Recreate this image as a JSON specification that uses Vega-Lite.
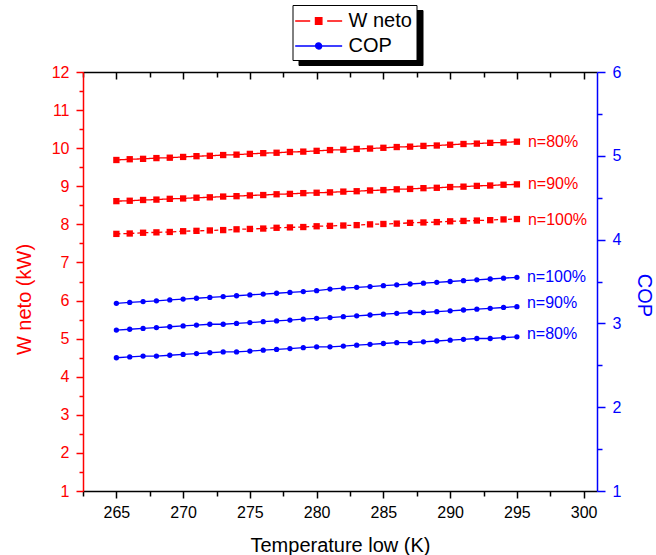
{
"$schema": "https://vega.github.io/schema/vega-lite/v6.json",
"width": 514, "height": 419,
"autosize": "none",
"padding": {"left": 83, "top": 72, "right": 59, "bottom": 64},
"background": "white",
"config": {
  "view": {"stroke": null},
  "font": "Liberation Sans",
  "axis": {"grid": false, "labelFont": "Liberation Sans", "titleFont": "Liberation Sans", "titleFontWeight": "normal", "labelFontSize": 16, "titleFontSize": 20, "domainWidth": 1.5, "tickWidth": 1.5}
},
"datasets": {
  "d": [
    {"t":265,"w80":9.69,"w90":8.61,"w100":7.75,"c80":2.59,"c90":2.92,"c100":3.24},
    {"t":266,"w80":9.71,"w90":8.62,"w100":7.76,"c80":2.60,"c90":2.93,"c100":3.25},
    {"t":267,"w80":9.72,"w90":8.64,"w100":7.78,"c80":2.61,"c90":2.94,"c100":3.26},
    {"t":268,"w80":9.74,"w90":8.65,"w100":7.79,"c80":2.61,"c90":2.95,"c100":3.27},
    {"t":269,"w80":9.75,"w90":8.67,"w100":7.80,"c80":2.62,"c90":2.96,"c100":3.28},
    {"t":270,"w80":9.77,"w90":8.68,"w100":7.82,"c80":2.63,"c90":2.97,"c100":3.29},
    {"t":271,"w80":9.79,"w90":8.70,"w100":7.83,"c80":2.64,"c90":2.98,"c100":3.30},
    {"t":272,"w80":9.80,"w90":8.71,"w100":7.84,"c80":2.65,"c90":2.99,"c100":3.31},
    {"t":273,"w80":9.82,"w90":8.73,"w100":7.85,"c80":2.66,"c90":2.99,"c100":3.32},
    {"t":274,"w80":9.83,"w90":8.74,"w100":7.87,"c80":2.66,"c90":3.00,"c100":3.33},
    {"t":275,"w80":9.85,"w90":8.76,"w100":7.88,"c80":2.67,"c90":3.01,"c100":3.34},
    {"t":276,"w80":9.87,"w90":8.77,"w100":7.89,"c80":2.68,"c90":3.02,"c100":3.35},
    {"t":277,"w80":9.88,"w90":8.79,"w100":7.91,"c80":2.69,"c90":3.03,"c100":3.36},
    {"t":278,"w80":9.90,"w90":8.80,"w100":7.92,"c80":2.70,"c90":3.04,"c100":3.37},
    {"t":279,"w80":9.91,"w90":8.82,"w100":7.93,"c80":2.71,"c90":3.05,"c100":3.38},
    {"t":280,"w80":9.93,"w90":8.83,"w100":7.95,"c80":2.72,"c90":3.06,"c100":3.39},
    {"t":281,"w80":9.95,"w90":8.84,"w100":7.96,"c80":2.72,"c90":3.07,"c100":3.41},
    {"t":282,"w80":9.96,"w90":8.86,"w100":7.97,"c80":2.73,"c90":3.08,"c100":3.42},
    {"t":283,"w80":9.98,"w90":8.87,"w100":7.98,"c80":2.74,"c90":3.09,"c100":3.43},
    {"t":284,"w80":9.99,"w90":8.89,"w100":8.00,"c80":2.75,"c90":3.10,"c100":3.44},
    {"t":285,"w80":10.01,"w90":8.90,"w100":8.01,"c80":2.76,"c90":3.11,"c100":3.45},
    {"t":286,"w80":10.03,"w90":8.92,"w100":8.02,"c80":2.77,"c90":3.12,"c100":3.46},
    {"t":287,"w80":10.04,"w90":8.93,"w100":8.04,"c80":2.77,"c90":3.13,"c100":3.47},
    {"t":288,"w80":10.06,"w90":8.95,"w100":8.05,"c80":2.78,"c90":3.13,"c100":3.48},
    {"t":289,"w80":10.07,"w90":8.96,"w100":8.06,"c80":2.79,"c90":3.14,"c100":3.49},
    {"t":290,"w80":10.09,"w90":8.98,"w100":8.08,"c80":2.80,"c90":3.15,"c100":3.50},
    {"t":291,"w80":10.11,"w90":8.99,"w100":8.09,"c80":2.81,"c90":3.16,"c100":3.51},
    {"t":292,"w80":10.12,"w90":9.01,"w100":8.10,"c80":2.82,"c90":3.17,"c100":3.52},
    {"t":293,"w80":10.14,"w90":9.02,"w100":8.11,"c80":2.82,"c90":3.18,"c100":3.53},
    {"t":294,"w80":10.15,"w90":9.04,"w100":8.13,"c80":2.83,"c90":3.19,"c100":3.54},
    {"t":295,"w80":10.17,"w90":9.05,"w100":8.14,"c80":2.84,"c90":3.20,"c100":3.55}
  ],
  "lab": [
    {"t":295,"v":10.17,"n":"n=80%","s":"W neto"},
    {"t":295,"v":9.05,"n":"n=90%","s":"W neto"},
    {"t":295,"v":8.11,"n":"n=100%","s":"W neto"},
    {"t":295,"v":3.55,"n":"n=100%","s":"COP"},
    {"t":295,"v":3.245,"n":"n=90%","s":"COP"},
    {"t":295,"v":2.87,"n":"n=80%","s":"COP"}
  ]
},
"layer": [
  {
    "encoding": {
      "x": {"field": "t", "type": "quantitative",
        "scale": {"domain": [262.5, 301], "nice": false, "zero": false},
        "axis": {"orient": "bottom", "title": "Temperature low (K)", "titleColor": "black",
          "values": [262.5,265,267.5,270,272.5,275,277.5,280,282.5,285,287.5,290,292.5,295,297.5,300],
          "labelExpr": "datum.value % 5 === 0 ? format(datum.value, 'd') : ''",
          "tickSize": {"condition": {"test": "datum.value % 5 === 0", "value": 7}, "value": 5},
          "domainColor": "black", "tickColor": "black", "labelColor": "black", "labelPadding": 6,
          "titleX": 257, "titleY": 54, "titleBaseline": "middle", "titleAlign": "center"}},
      "y": {"field": "v", "type": "quantitative",
        "scale": {"domain": [1, 12], "nice": false, "zero": false},
        "axis": {"orient": "left", "title": "W neto (kW)", "titleColor": "#ff0000",
          "values": [1,1.5,2,2.5,3,3.5,4,4.5,5,5.5,6,6.5,7,7.5,8,8.5,9,9.5,10,10.5,11,11.5,12],
          "labelExpr": "datum.value % 1 === 0 ? format(datum.value, 'd') : ''",
          "tickSize": {"condition": {"test": "datum.value % 1 === 0", "value": 7}, "value": 4},
          "domainColor": "#ff0000", "tickColor": "#ff0000", "labelColor": "#ff0000", "labelPadding": 7,
          "titleAngle": -90, "titleX": -59, "titleY": 227, "titleBaseline": "middle", "titleAlign": "center"}}
    },
    "layer": [
      {
        "data": {"name": "d"},
        "transform": [{"fold": ["w80", "w90", "w100"], "as": ["n", "v"]}],
        "mark": {"type": "line", "color": "#ff0000", "strokeWidth": 1.3},
        "encoding": {
          "detail": {"field": "n"},
          "strokeDash": {"field": "n", "type": "nominal", "scale": {"domain": ["w80", "w90", "w100"], "range": [[1, 0], [1, 0], [4, 3]]}, "legend": null}
        }
      },
      {
        "data": {"name": "d"},
        "transform": [{"fold": ["w80", "w90", "w100"], "as": ["n", "v"]}],
        "mark": {"type": "point", "shape": "square", "filled": true, "color": "#ff0000", "size": 40, "opacity": 1}
      },
      {
        "data": {"name": "lab"},
        "transform": [{"filter": "datum.s === 'W neto'"}],
        "mark": {"type": "text", "align": "left", "baseline": "middle", "dx": 11, "fontSize": 16, "color": "#ff0000"},
        "encoding": {"text": {"field": "n"}}
      },
      {
        "data": {"name": "lab"},
        "mark": {"type": "point", "filled": true, "opacity": 0},
        "encoding": {
          "color": {"field": "s", "type": "nominal",
            "scale": {"domain": ["W neto", "COP"], "range": ["#ff0000", "#0000ff"]},
            "legend": {"orient": "none", "legendX": 209.5, "legendY": -67, "title": null, "zindex": 2,
              "strokeColor": "black", "fillColor": "white", "padding": 4, "labelFontSize": 20,
              "labelFont": "Liberation Sans", "labelColor": "black", "symbolSize": 500,
              "symbolStrokeWidth": 1.3, "symbolOpacity": 1, "labelOffset": 28, "rowPadding": 3,
              "encode": {"symbols": {"update": {"fill": {"scale": "color", "field": "value"}, "stroke": {"scale": "color", "field": "value"}, "opacity": {"value": 1}}}}}},
          "shape": {"field": "s", "type": "nominal",
            "scale": {"domain": ["W neto", "COP"], "range": [
              "M-1.19,0H0.15M1.67,0H3.01M0.62,-0.29H1.2V0.29H0.62Z",
              "M-1.19,0H3.01M1.18,0A0.27,0.27 0 1,1 0.64,0A0.27,0.27 0 1,1 1.18,0Z"]},
            "legend": {"orient": "none", "legendX": 209.5, "legendY": -67, "title": null, "zindex": 2}}
        }
      },
      {
        "data": {"name": "lab"},
        "mark": {"type": "point", "opacity": 0},
        "encoding": {
          "fill": {"field": "s", "type": "nominal",
            "scale": {"domain": ["COP", "W neto"], "range": ["black", "black"]},
            "legend": {"orient": "none", "legendX": 215.5, "legendY": -62, "title": null, "zindex": 1,
              "strokeColor": "black", "fillColor": "black", "padding": 4, "labelFontSize": 20,
              "labelFont": "Liberation Sans", "labelColor": "black", "symbolSize": 500,
              "labelExpr": "''",
              "symbolType": "M-1.19,0H3.01M1.18,0A0.27,0.27 0 1,1 0.64,0A0.27,0.27 0 1,1 1.18,0Z",
              "symbolStrokeWidth": 1.3, "symbolStrokeColor": "black", "symbolOpacity": 1, "labelOffset": 91.4, "rowPadding": 3}}
        }
      }
    ]
  },
  {
    "encoding": {
      "x": {"field": "t", "type": "quantitative",
        "scale": {"domain": [262.5, 301], "nice": false, "zero": false},
        "axis": {"orient": "top", "title": null, "labels": false,
          "values": [262.5,265,267.5,270,272.5,275,277.5,280,282.5,285,287.5,290,292.5,295,297.5,300],
          "tickSize": {"condition": {"test": "datum.value % 5 === 0", "value": -7}, "value": -5},
          "domainColor": "black", "tickColor": "black"}},
      "y": {"field": "v", "type": "quantitative",
        "scale": {"domain": [1, 6], "nice": false, "zero": false},
        "axis": {"orient": "right", "title": "COP", "titleColor": "#0000ff",
          "values": [1,1.5,2,2.5,3,3.5,4,4.5,5,5.5,6],
          "labelExpr": "datum.value % 1 === 0 ? format(datum.value, 'd') : ''",
          "tickSize": {"condition": {"test": "datum.value % 1 === 0", "value": 8}, "value": 5},
          "domainColor": "#0000ff", "tickColor": "#0000ff", "labelColor": "#0000ff", "labelPadding": 7,
          "titleAngle": 90, "titleX": 46, "titleY": 223, "titleBaseline": "middle", "titleAlign": "center"}}
    },
    "layer": [
      {
        "data": {"name": "d"},
        "transform": [{"fold": ["c80", "c90", "c100"], "as": ["n", "v"]}],
        "mark": {"type": "line", "color": "#0000ff", "strokeWidth": 1.3},
        "encoding": {"detail": {"field": "n"}}
      },
      {
        "data": {"name": "d"},
        "transform": [{"fold": ["c80", "c90", "c100"], "as": ["n", "v"]}],
        "mark": {"type": "point", "shape": "circle", "filled": true, "color": "#0000ff", "size": 28, "opacity": 1}
      },
      {
        "data": {"name": "lab"},
        "transform": [{"filter": "datum.s === 'COP'"}],
        "mark": {"type": "text", "align": "left", "baseline": "middle", "dx": 10, "fontSize": 16, "color": "#0000ff"},
        "encoding": {"text": {"field": "n"}}
      }
    ]
  }
],
"resolve": {"scale": {"y": "independent"}, "axis": {"x": "independent"}}
}
